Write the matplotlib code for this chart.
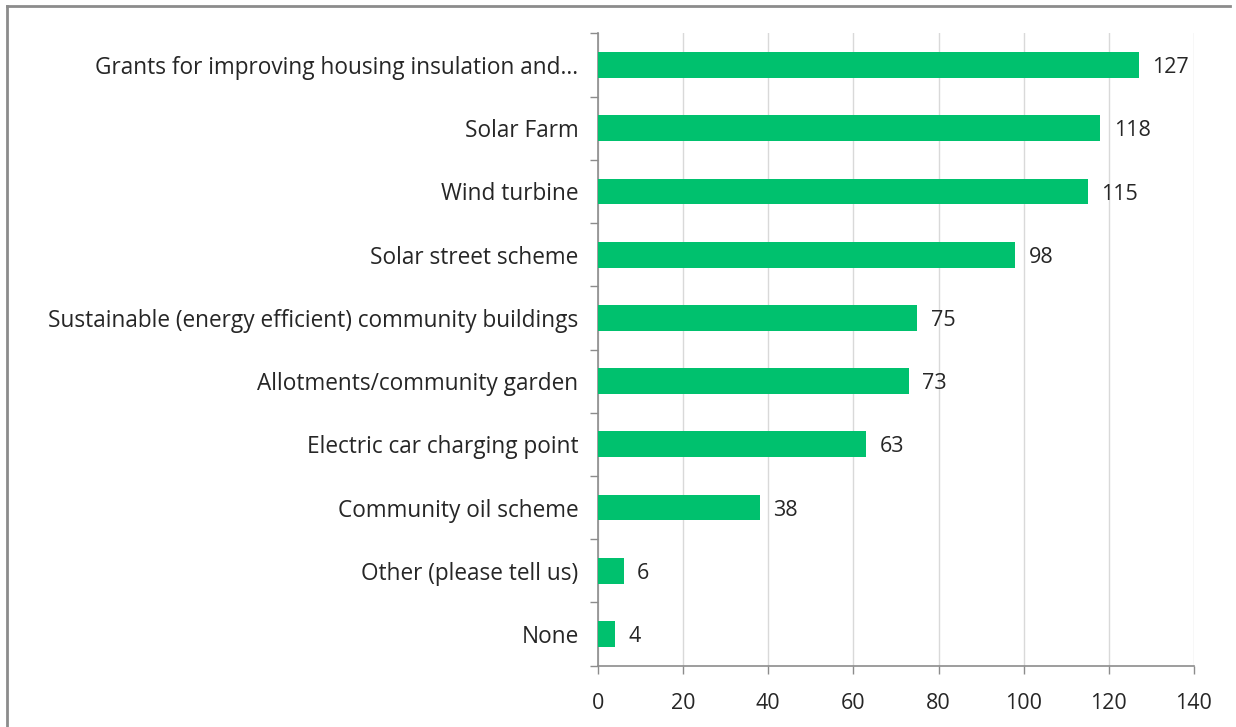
import matplotlib.pyplot as plt
from matplotlib.lines import Line2D

categories = [
    "Grants for improving housing insulation and...",
    "Solar Farm",
    "Wind turbine",
    "Solar street scheme",
    "Sustainable (energy efficient) community buildings",
    "Allotments/community garden",
    "Electric car charging point",
    "Community oil scheme",
    "Other (please tell us)",
    "None",
]
values = [127, 118, 115, 98, 75, 73, 63, 38, 6, 4]
x_ticks = [0, 20, 40, 60, 80, 100, 120, 140]

BAR_COLOR = "#00C16E"
AXIS_COLOR = "#8C8C8C"
GRID_COLOR = "#D9D9D9"
TEXT_COLOR = "#262626"
FS = 15.5

plt.rcParams.update({
    "font.family": ["Open Sans", "DejaVu Sans"],
    "font.size": FS,
})

fig = plt.figure(figsize=(12.36, 7.27), dpi=100)
ax = fig.add_axes([0.4838, 0.0845, 0.4822, 0.8695])

n = len(categories)
ypos = list(range(n))[::-1]
ax.barh(ypos, values, height=0.41, color=BAR_COLOR, zorder=3)

for y, v in zip(ypos, values):
    ax.text(v + 3.2, y - 0.04, str(v), va="center", ha="left", color=TEXT_COLOR, fontsize=FS)

ax.set_xlim(0, 140)
ax.set_ylim(-0.5, n - 0.5)
ax.set_xticks(x_ticks)
ax.set_xticklabels([str(t) for t in x_ticks], color=TEXT_COLOR, fontsize=FS)
ax.xaxis.grid(True, color=GRID_COLOR, linewidth=1, zorder=0)

ax.set_yticks(ypos)
ax.set_yticklabels(categories, color=TEXT_COLOR, fontsize=16.3)
ax.tick_params(axis="y", length=0, pad=14)
ax.set_yticks([i - 0.5 for i in range(n + 1)], minor=True)
ax.tick_params(axis="y", which="minor", length=6, color=AXIS_COLOR, width=1)
ax.tick_params(axis="x", length=6, color=AXIS_COLOR, width=1, pad=14)

for side in ["top", "right"]:
    ax.spines[side].set_visible(False)
for side in ["left", "bottom"]:
    ax.spines[side].set_color(AXIS_COLOR)
    ax.spines[side].set_linewidth(1.2)

# outer chart border (left and top visible)
fig.add_artist(Line2D([7 / 1236, 7 / 1236], [0, 1 - 6 / 727], transform=fig.transFigure,
                      color="#8C8C8C", linewidth=2))
fig.add_artist(Line2D([7 / 1236, 1230 / 1236], [1 - 6 / 727, 1 - 6 / 727], transform=fig.transFigure,
                      color="#8C8C8C", linewidth=2))

fig.savefig("out.png", dpi=100, facecolor="white")
